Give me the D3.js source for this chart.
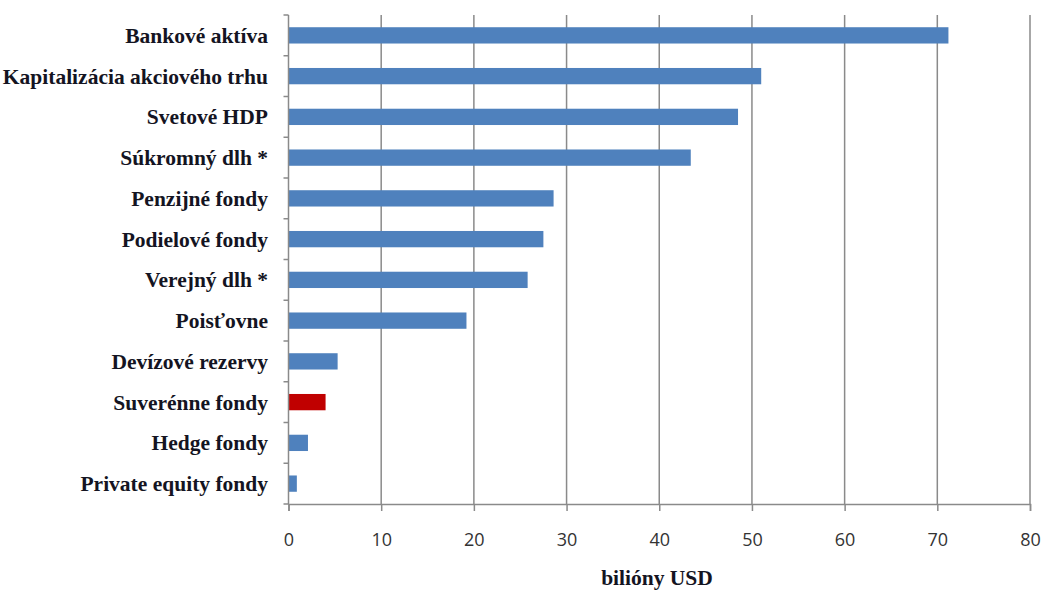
<!DOCTYPE html>
<html><head><meta charset="utf-8">
<script src="https://cdn.jsdelivr.net/npm/d3@7"></script>
<style>html,body{margin:0;padding:0;background:#fff;}</style>
</head><body>
<svg id="c" width="1044" height="590"></svg>
<script>
const categories = ["Bankové aktíva","Kapitalizácia akciového trhu","Svetové HDP","Súkromný dlh *","Penzijné fondy","Podielové fondy","Verejný dlh *","Poisťovne","Devízové rezervy","Suverénne fondy","Hedge fondy","Private equity fondy"];
const values = [71.2, 51.0, 48.5, 43.4, 28.6, 27.5, 25.8, 19.2, 5.3, 4.0, 2.1, 0.9];
const highlighted = ["Suverénne fondy"];
const xTicks = [0,10,20,30,40,50,60,70,80];
const xTitle = "bilióny USD";

const svg = d3.select("#c");
const m = {left:288.5, right:1030, top:15, bottom:504};
const x = d3.scaleLinear().domain([0,80]).range([m.left, m.right]);
const y = d3.scaleBand().domain(categories).range([m.top, m.bottom]).paddingInner(0.6).paddingOuter(0.3);
const yb = d3.scaleBand().domain(categories).range([m.top, m.bottom]);
const grid = "#8a8a8a";

// gridlines
svg.append("g").selectAll("line").data(xTicks.slice(1)).join("line")
  .attr("x1", d=>x(d)).attr("x2", d=>x(d)).attr("y1", m.top).attr("y2", m.bottom)
  .attr("stroke", grid).attr("stroke-width", 1.5);

// bars
svg.append("g").selectAll("rect").data(categories).join("rect")
  .attr("x", x(0)).attr("y", d=>y(d)).attr("height", y.bandwidth())
  .attr("width", (d,i)=>x(values[i])-x(0))
  .attr("fill", d=>highlighted.includes(d) ? "#C00000" : "#4F81BD");

// x axis
const xa = svg.append("g").attr("transform", `translate(0,${m.bottom})`)
  .call(d3.axisBottom(x).tickValues(xTicks).tickSize(7).tickPadding(22));
xa.select(".domain").attr("stroke", grid).attr("stroke-width", 1.5);
xa.selectAll(".tick line").attr("stroke", grid).attr("stroke-width", 1.5);
xa.selectAll("text").attr("font-family", "'Open Sans', sans-serif").attr("font-size", 18).attr("fill", "#333");

// y axis (band boundaries ticks)
svg.append("line").attr("x1", m.left).attr("x2", m.left).attr("y1", m.top).attr("y2", m.bottom)
  .attr("stroke", grid).attr("stroke-width", 1.5);
const bounds = categories.map(c=>yb(c)).concat([m.bottom]);
svg.append("g").selectAll("line").data(bounds).join("line")
  .attr("x1", m.left-5).attr("x2", m.left).attr("y1", d=>d).attr("y2", d=>d)
  .attr("stroke", grid).attr("stroke-width", 1.5);

// y labels
svg.append("g").selectAll("text").data(categories).join("text")
  .attr("x", 268).attr("y", d=>yb(d)+yb.bandwidth()/2).attr("dy", "0.35em")
  .attr("text-anchor", "end")
  .attr("font-family", "'Liberation Serif', 'Times New Roman', serif")
  .attr("font-weight", "bold").attr("font-size", 21.5).attr("fill", "#141422")
  .text(d=>d);

// x title
svg.append("text").attr("x", 657).attr("y", 585)
  .attr("text-anchor", "middle")
  .attr("font-family", "'Liberation Serif', 'Times New Roman', serif")
  .attr("font-weight", "bold").attr("font-size", 21.5).attr("fill", "#141422")
  .text(xTitle);
</script>
</body></html>
